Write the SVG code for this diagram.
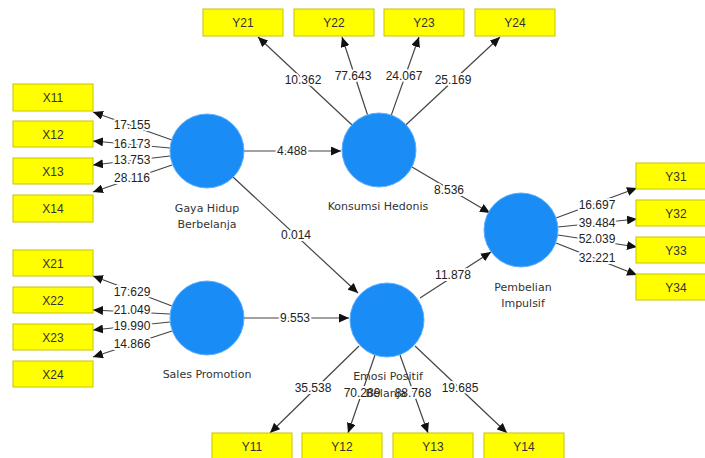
<svg xmlns="http://www.w3.org/2000/svg" width="705" height="458" viewBox="0 0 705 458">
<style>
.box{fill:#ffff00;stroke:#c8c400;stroke-width:1}
.bt{font-family:"Liberation Sans",Arial,sans-serif;font-size:12px;fill:#333;text-anchor:middle}
.lv{fill:#1a8cf5;stroke:#5cb0ff;stroke-width:1}
.nl{font-family:"DejaVu Sans",sans-serif;font-size:11px;fill:#333;text-anchor:middle}
.c{stroke:#444;stroke-width:1.2;fill:none;marker-end:url(#ah)}
.n{font-family:"Liberation Sans",Arial,sans-serif;font-size:12px;fill:#222;text-anchor:middle;stroke:#fff;stroke-width:4;paint-order:stroke;stroke-linejoin:round}
</style>
<defs>
<marker id="ah" markerUnits="userSpaceOnUse" markerWidth="11" markerHeight="9" refX="10" refY="4.5" orient="auto">
<path d="M0,0 L10,4.5 L0,9 z" fill="#111"/>
</marker>
</defs>
<rect width="705" height="458" fill="#fff"/>
<g id="connectors">
<line class="c" x1="352" y1="125" x2="258" y2="37"/>
<line class="c" x1="367.5" y1="114.8" x2="342" y2="37"/>
<line class="c" x1="391.3" y1="115.1" x2="419" y2="37"/>
<line class="c" x1="406" y1="124.8" x2="500" y2="37"/>
<line class="c" x1="172" y1="140" x2="93" y2="112"/>
<line class="c" x1="170" y1="148" x2="93" y2="141"/>
<line class="c" x1="170" y1="156" x2="93" y2="165"/>
<line class="c" x1="172" y1="165" x2="93" y2="192"/>
<line class="c" x1="172" y1="306" x2="93" y2="276"/>
<line class="c" x1="170" y1="314" x2="93" y2="310"/>
<line class="c" x1="170" y1="322" x2="93" y2="330"/>
<line class="c" x1="172" y1="331" x2="93" y2="357"/>
<line class="c" x1="556" y1="218" x2="637" y2="188"/>
<line class="c" x1="558" y1="227" x2="637" y2="219"/>
<line class="c" x1="558" y1="235" x2="637" y2="247"/>
<line class="c" x1="556" y1="243" x2="637" y2="275"/>
<line class="c" x1="359" y1="346" x2="270" y2="433"/>
<line class="c" x1="375" y1="355" x2="348" y2="433"/>
<line class="c" x1="400" y1="355" x2="428" y2="433"/>
<line class="c" x1="415" y1="346" x2="507" y2="433"/>
<line class="c" x1="244" y1="151" x2="341" y2="151"/>
<line class="c" x1="233" y1="177" x2="358" y2="293"/>
<line class="c" x1="244" y1="318" x2="349" y2="318"/>
<line class="c" x1="412" y1="167" x2="490" y2="213"/>
<line class="c" x1="420" y1="298" x2="491" y2="252"/>
<text class="n" x="303" y="84">10.362</text>
<text class="n" x="353" y="80">77.643</text>
<text class="n" x="404" y="80">24.067</text>
<text class="n" x="453" y="84">25.169</text>
<text class="n" x="132" y="129">17.155</text>
<text class="n" x="132" y="148">16.173</text>
<text class="n" x="132" y="164">13.753</text>
<text class="n" x="132" y="182">28.116</text>
<text class="n" x="132" y="296">17.629</text>
<text class="n" x="132" y="314">21.049</text>
<text class="n" x="132" y="330">19.990</text>
<text class="n" x="132" y="348">14.866</text>
<text class="n" x="597" y="209">16.697</text>
<text class="n" x="597" y="227">39.484</text>
<text class="n" x="597" y="243">52.039</text>
<text class="n" x="597" y="262">32.221</text>
<text class="n" x="313" y="392">35.538</text>
<text class="n" x="362" y="397">70.289</text>
<text class="n" x="413" y="397">88.768</text>
<text class="n" x="460" y="392">19.685</text>
<text class="n" x="292" y="155">4.488</text>
<text class="n" x="296" y="239">0.014</text>
<text class="n" x="295" y="322">9.553</text>
<text class="n" x="449" y="194">8.536</text>
<text class="n" x="453" y="279">11.878</text>
</g>
<g id="Y21"><rect class="box" x="203" y="9" width="80" height="27"/><text class="bt" x="243" y="27">Y21</text></g>
<g id="Y22"><rect class="box" x="294" y="9" width="80" height="27"/><text class="bt" x="334" y="27">Y22</text></g>
<g id="Y23"><rect class="box" x="384" y="9" width="80" height="27"/><text class="bt" x="424" y="27">Y23</text></g>
<g id="Y24"><rect class="box" x="475" y="9" width="80" height="27"/><text class="bt" x="515" y="27">Y24</text></g>
<g id="X11"><rect class="box" x="13" y="84" width="80" height="27"/><text class="bt" x="53" y="102">X11</text></g>
<g id="X12"><rect class="box" x="13" y="121" width="80" height="26"/><text class="bt" x="53" y="139">X12</text></g>
<g id="X13"><rect class="box" x="13" y="158" width="80" height="26"/><text class="bt" x="53" y="176">X13</text></g>
<g id="X14"><rect class="box" x="13" y="195" width="80" height="27"/><text class="bt" x="53" y="213">X14</text></g>
<g id="X21"><rect class="box" x="13" y="250" width="80" height="26"/><text class="bt" x="53" y="268">X21</text></g>
<g id="X22"><rect class="box" x="13" y="287" width="80" height="26"/><text class="bt" x="53" y="305">X22</text></g>
<g id="X23"><rect class="box" x="13" y="324" width="80" height="26"/><text class="bt" x="53" y="342">X23</text></g>
<g id="X24"><rect class="box" x="13" y="361" width="80" height="26"/><text class="bt" x="53" y="379">X24</text></g>
<g id="Y31"><rect class="box" x="636" y="163" width="80" height="26"/><text class="bt" x="676" y="181">Y31</text></g>
<g id="Y32"><rect class="box" x="636" y="200" width="80" height="26"/><text class="bt" x="676" y="218">Y32</text></g>
<g id="Y33"><rect class="box" x="636" y="237" width="80" height="26"/><text class="bt" x="676" y="255">Y33</text></g>
<g id="Y34"><rect class="box" x="636" y="274" width="80" height="26"/><text class="bt" x="676" y="292">Y34</text></g>
<g id="Y11"><rect class="box" x="212" y="433" width="80" height="27"/><text class="bt" x="252" y="451">Y11</text></g>
<g id="Y12"><rect class="box" x="302" y="433" width="80" height="27"/><text class="bt" x="342" y="451">Y12</text></g>
<g id="Y13"><rect class="box" x="393" y="433" width="80" height="27"/><text class="bt" x="433" y="451">Y13</text></g>
<g id="Y14"><rect class="box" x="484" y="433" width="80" height="27"/><text class="bt" x="524" y="451">Y14</text></g>
<g id="GayaHidup"><circle class="lv" cx="207" cy="151" r="37"/><text class="nl" x="207" y="212">Gaya Hidup</text><text class="nl" x="207" y="228">Berbelanja</text></g>
<g id="SalesPromotion"><circle class="lv" cx="207" cy="318" r="37"/><text class="nl" x="207" y="378">Sales Promotion</text></g>
<g id="KonsumsiHedonis"><circle class="lv" cx="379" cy="150" r="37"/><text class="nl" x="378" y="210">Konsumsi Hedonis</text></g>
<g id="EmosiPositif"><circle class="lv" cx="387" cy="320" r="37"/><text class="nl" x="388" y="380">Emosi Positif</text><text class="nl" x="386" y="397">Belanja</text></g>
<g id="Pembelian"><circle class="lv" cx="521" cy="230" r="37"/><text class="nl" x="523" y="291">Pembelian</text><text class="nl" x="523" y="307">Impulsif</text></g>
</svg>
